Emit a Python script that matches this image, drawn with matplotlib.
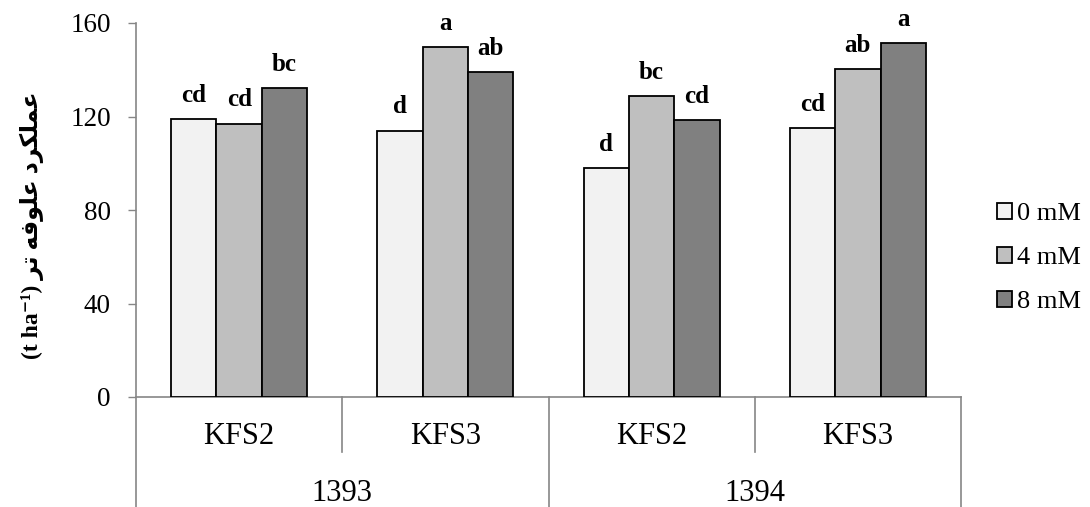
import matplotlib
matplotlib.use("Agg")
import matplotlib.pyplot as plt
import numpy as np

# Data
years = ["1393", "1394"]
cultivars = ["KFS2", "KFS3", "KFS2", "KFS3"]
series_names = ["0 mM", "4 mM", "8 mM"]
vals_0mM = [118.9, 114.0, 98.0, 114.9]
vals_4mM = [117.0, 149.7, 128.7, 140.2]
vals_8mM = [132.0, 138.9, 118.3, 151.3]
letters_0mM = ["cd", "d", "d", "cd"]
letters_4mM = ["cd", "a", "bc", "ab"]
letters_8mM = ["bc", "ab", "cd", "a"]

colors = ["#F2F2F2", "#BFBFBF", "#808080"]
grey = "#868686"

plt.rcParams["font.family"] = ["Liberation Serif", "DejaVu Serif", "DejaVu Sans"]

fig = plt.figure(figsize=(10.9, 5.07), dpi=100)
ax = fig.add_axes([136 / 1090, 1 - 397 / 507, (961 - 136) / 1090, (397 - 23) / 507])

x = np.arange(len(cultivars))
w = 0.22
all_vals = [vals_0mM, vals_4mM, vals_8mM]
all_letters = [letters_0mM, letters_4mM, letters_8mM]
for i, (vals, lets) in enumerate(zip(all_vals, all_letters)):
    xs = x + (i - 1) * w
    ax.bar(xs, vals, width=w, color=colors[i], edgecolor="black",
           linewidth=1.3, label=series_names[i], zorder=3)
    for xi, v, t in zip(xs, vals, lets):
        ax.annotate(t, (xi, v), xytext=(0, 12.5), textcoords="offset points",
                    ha="center", va="baseline", fontsize=18, fontweight="bold")

ax.set_xlim(-0.5, 3.5)
ax.set_ylim(0, 160)
ax.set_yticks([0, 40, 80, 120, 160])
ax.set_xticks([])
ax.tick_params(axis="y", length=6, width=1, color=grey, labelsize=19.5, pad=12)
for s in ["top", "right"]:
    ax.spines[s].set_visible(False)
ax.spines["left"].set_visible(False)
ax.spines["bottom"].set_color(grey)
ax.spines["bottom"].set_linewidth(1.2)

# multi-level category axis
tr = ax.get_xaxis_transform()
for xd in [-0.5, 1.5, 3.5]:
    ax.plot([xd, xd], [1.0 if xd == -0.5 else 0, -0.294], color=grey, lw=1.2,
            transform=tr, clip_on=False)
for xd in [0.5, 2.5]:
    ax.plot([xd, xd], [0, -0.147], color=grey, lw=1.2, transform=tr, clip_on=False)
for xi, c in zip(x, cultivars):
    ax.text(xi, -0.1257, c, transform=tr, ha="center", va="baseline", fontsize=22)
for j, y in enumerate(years):
    ax.text(0.5 + 2 * j, -0.278, y, transform=tr, ha="center", va="baseline", fontsize=22)

# y label: "(t ha-1) عملکرد علوفه تر" written in presentation forms, visual order
ylab = "(t ha\u207b\u00b9) \ufeae\ufe97 \ufeea\ufed3\ufeee\ufee0\ufecb \ufea9\ufeae\ufb91\ufee0\ufee4\ufecb"
fig.text(32 / 1090, 1 - 225 / 507, ylab, rotation=90, ha="center", va="center",
         fontsize=17, fontweight="bold",
         family=["Liberation Serif", "DejaVu Sans"])

ax.legend(loc="center left", bbox_to_anchor=(997 / 1090, 1 - 258 / 507),
          bbox_transform=fig.transFigure, frameon=False, fontsize=19,
          handlelength=0.55, handleheight=0.55, handletextpad=0.2,
          labelspacing=0.83, borderpad=0, borderaxespad=0)

fig.savefig("out.png", dpi=100)
